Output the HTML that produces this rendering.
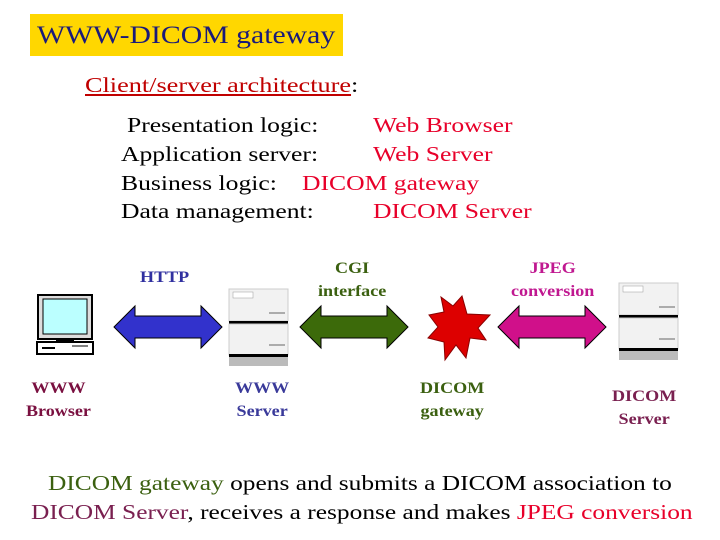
<!DOCTYPE html>
<html><head><style>
body{margin:0;width:720px;height:540px;background:#fff;position:relative;overflow:hidden;font-family:"Liberation Serif",serif}
.a{position:absolute;white-space:nowrap;transform-origin:0 0}
.b{font-weight:bold;font-size:16px;transform:scaleX(1.13)}
.l{font-size:21px;line-height:21px;transform:scaleX(1.22)}
.r{color:#e8002a}
</style></head><body>
<div class="a" style="left:30px;top:14px;width:313px;height:42px;background:#ffd700"></div>
<div class="a" style="left:37px;top:22px;font-size:25px;color:#1a1a7a;transform:scaleX(1.19)">WWW-DICOM gateway</div>
<div class="a l" style="left:85px;top:75px;font-size:21px;color:#c00000;transform:scaleX(1.25)"><u>Client/server architecture</u><span style="color:#000">:</span></div>
<div class="a l" style="left:127px;top:115px">Presentation logic:</div>
<div class="a l r" style="left:373px;top:115px">Web Browser</div>
<div class="a l" style="left:121px;top:144px">Application server:</div>
<div class="a l r" style="left:373px;top:144px">Web Server</div>
<div class="a l" style="left:121px;top:173px">Business logic:</div>
<div class="a l r" style="left:302px;top:173px">DICOM gateway</div>
<div class="a l" style="left:121px;top:201px">Data management:</div>
<div class="a l r" style="left:373px;top:201px">DICOM Server</div>

<div class="a b" style="left:140px;top:269px;color:#3030a0">HTTP</div>
<div class="a b" style="left:318px;top:257px;color:#3b6010;text-align:center;line-height:23px">CGI<br>interface</div>
<div class="a b" style="left:511px;top:257px;color:#c01890;text-align:center;line-height:23px">JPEG<br>conversion</div>
<div class="a b" style="left:26px;top:377px;color:#7a1040;text-align:center;line-height:23px">WWW<br>Browser</div>
<div class="a b" style="left:235px;top:377px;color:#3a3a9a;text-align:center;line-height:23px">WWW<br>Server</div>
<div class="a b" style="left:420px;top:377px;color:#3b6010;text-align:center;line-height:23px">DICOM<br>gateway</div>
<div class="a b" style="left:612px;top:385px;color:#7a2050;text-align:center;line-height:23px">DICOM<br>Server</div>

<svg class="a" style="left:0;top:0" width="720" height="540">
<g stroke="#000" stroke-width="1">
<polygon points="114,327 135,306 135,316 201,316 201,306 222,327 201,348 201,338 135,338 135,348" fill="#3232cc"/>
<polygon points="300,327 321,306 321,316 387,316 387,306 408,327 387,348 387,338 321,338 321,348" fill="#3c6a0a"/>
<polygon points="498,327 519,306 519,316 585,316 585,306 606,327 585,348 585,338 519,338 519,348" fill="#d0108a"/>
</g>
<polygon points="462,296 467,314 490,315 478,328 486,340 470,338 466,358 456,345 445,360 444,342 428,338 438,327 429,315 444,312 441,297 453,306" fill="#dd0000" stroke="#800" stroke-width="1"/>
<rect x="38" y="295" width="54" height="44" fill="#ddd" stroke="#000" stroke-width="2"/>
<rect x="43" y="299" width="44" height="35" fill="#bff" stroke="#000"/>
<rect x="56" y="339" width="18" height="3" fill="#000"/>
<rect x="37" y="342" width="56" height="12" fill="#fff" stroke="#000" stroke-width="2"/>
<line x1="42" y1="348" x2="55" y2="348" stroke="#000" stroke-width="2"/>
<line x1="72" y1="346" x2="88" y2="346" stroke="#000"/>
<g transform="translate(229,289)">
<rect x="0" y="0" width="59" height="32" fill="#f2f2f2" stroke="#ccc"/>
<rect x="0" y="32" width="59" height="3" fill="#000"/>
<rect x="0" y="35" width="59" height="31" fill="#f2f2f2" stroke="#ccc"/>
<rect x="0" y="65" width="59" height="3" fill="#000"/>
<rect x="0" y="68" width="59" height="9" fill="#bbb"/>
<rect x="4" y="3" width="20" height="6" fill="#fff" stroke="#999" stroke-width=".5"/>
<line x1="40" y1="24" x2="56" y2="24" stroke="#666"/><line x1="40" y1="56" x2="56" y2="56" stroke="#666"/>
</g>
<g transform="translate(619,283)">
<rect x="0" y="0" width="59" height="32" fill="#f2f2f2" stroke="#ccc"/>
<rect x="0" y="32" width="59" height="3" fill="#000"/>
<rect x="0" y="35" width="59" height="31" fill="#f2f2f2" stroke="#ccc"/>
<rect x="0" y="65" width="59" height="3" fill="#000"/>
<rect x="0" y="68" width="59" height="9" fill="#bbb"/>
<rect x="4" y="3" width="20" height="6" fill="#fff" stroke="#999" stroke-width=".5"/>
<line x1="40" y1="24" x2="56" y2="24" stroke="#666"/><line x1="40" y1="56" x2="56" y2="56" stroke="#666"/>
</g>
</svg>

<div class="a l" style="left:48px;top:473px;transform:scaleX(1.21)"><span style="color:#3b6010">DICOM gateway</span> opens and submits a DICOM association to</div>
<div class="a l" style="left:31px;top:502px;transform:scaleX(1.21)"><span style="color:#7a2050">DICOM Server</span>, receives a response and makes <span class="r">JPEG conversion</span></div>
</body></html>
